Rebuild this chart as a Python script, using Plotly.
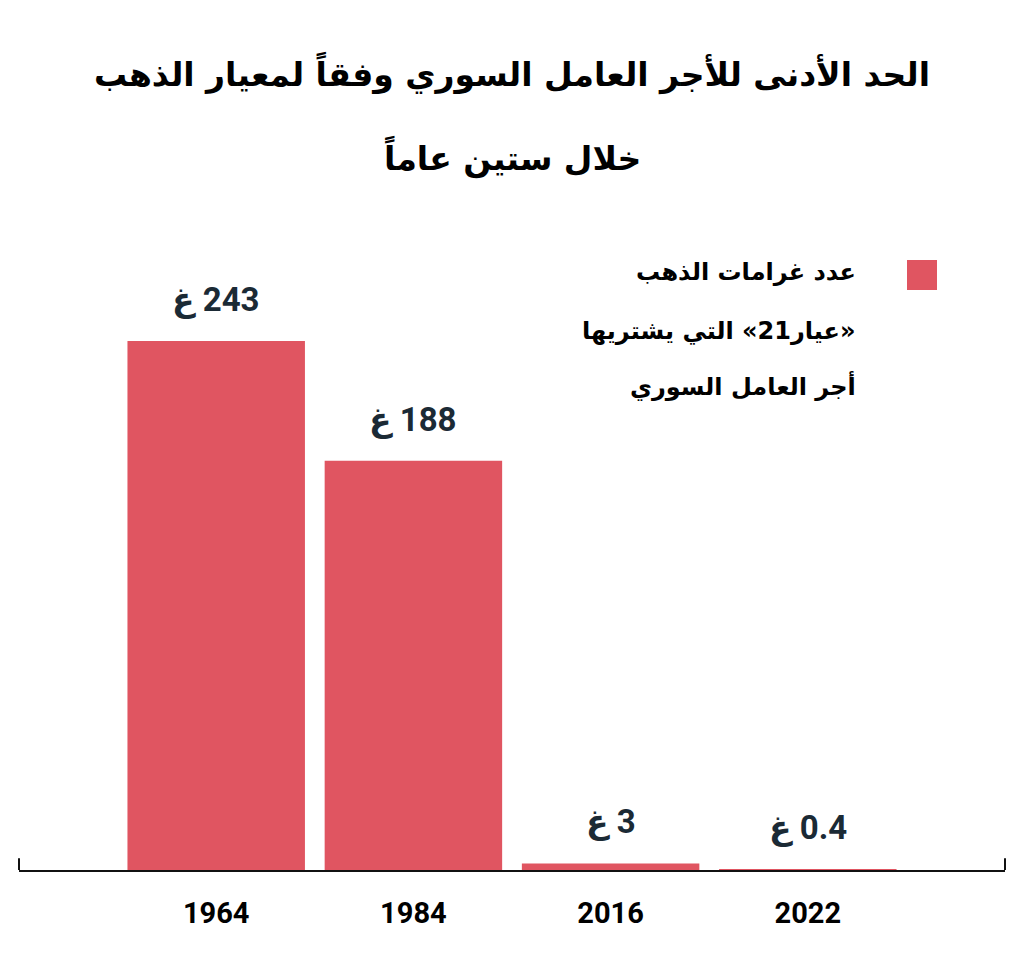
import plotly.graph_objects as go

# بيانات الرسم
years = ["1964", "1984", "2016", "2022"]
grams = [243, 188, 3, 0.4]
grams_labels = ["243", "188", "3", "0.4"]

title_lines = ["الحد الأدنى للأجر العامل السوري وفقاً لمعيار الذهب", "خلال ستين عاماً"]
legend_lines = ["عدد غرامات الذهب", "«عيار21» التي يشتريها", "أجر العامل السوري"]

RLI, PDI = "\u2067", "\u2069"  # عزل النص باتجاه من اليمين لليسار


def rtl(s):
    return RLI + s + PDI


bar_color = "#e05561"
label_color = "#1b2a35"
num_font = "Roboto, Noto Sans, DejaVu Sans"
ar_font = "DejaVu Sans, Noto Sans"

W, H = 1024, 954
OFF = 8  # body margin of the page
top, bottom, left, right = 212, 92, 11, 27
pw = W - left - right
ph = H - top - bottom


def px_x(x):
    return (x - OFF - left) / pw


def px_y(y):
    return (H - bottom - (y - OFF)) / ph


fig = go.Figure()
fig.add_trace(go.Bar(x=years, y=grams, marker=dict(color=bar_color, line=dict(width=0)),
                     showlegend=False, hoverinfo="skip"))

annotations = []
# ارقام فوق الاعمدة
for i, (val, lab) in enumerate(zip(grams, grams_labels)):
    annotations.append(dict(x=i, y=val, xref="x", yref="y", text=rtl(lab + " غ"),
                            showarrow=False, yanchor="bottom", yshift=20,
                            font=dict(family=num_font, size=33, color=label_color, weight="bold")))

# العنوان
for i, line in enumerate(title_lines):
    annotations.append(dict(x=0.5, xref="paper", y=px_y(73 + i * 84), yref="paper",
                            text="<b>" + rtl(line) + "</b>", showarrow=False,
                            xanchor="center", yanchor="middle",
                            font=dict(family=ar_font, size=33, color="black")))

# مفتاح الرسم
for i, line in enumerate(legend_lines):
    annotations.append(dict(x=px_x(858), xref="paper", y=px_y([272, 331, 386][i]), yref="paper",
                            text="<b>" + rtl(line) + "</b>", showarrow=False,
                            xanchor="right", yanchor="middle",
                            font=dict(family=ar_font, size=24, color="black")))

fig.update_layout(
    width=W, height=H,
    margin=dict(l=left, r=right, t=top, b=bottom),
    plot_bgcolor="white", paper_bgcolor="white",
    bargap=0.1,
    xaxis=dict(type="category", range=[-1, 4], showline=True, linecolor="#111", linewidth=2,
               ticks="", ticklabelstandoff=16,
               tickfont=dict(family=num_font, size=29, color="black", weight="bold"),
               showgrid=False, fixedrange=True),
    yaxis=dict(range=[0, 298.6], visible=False, showgrid=False, zeroline=False, fixedrange=True),
    annotations=annotations,
    shapes=[
        dict(type="line", xref="paper", yref="y domain", x0=0, x1=0, y0=0, y1=0.018,
             line=dict(color="#111", width=2)),
        dict(type="line", xref="paper", yref="y domain", x0=1, x1=1, y0=0, y1=0.018,
             line=dict(color="#111", width=2)),
        dict(type="rect", xref="paper", yref="paper",
             x0=px_x(907), x1=px_x(937), y0=px_y(290), y1=px_y(260),
             fillcolor=bar_color, line=dict(width=0)),
    ],
)

fig.write_html("out.html")
